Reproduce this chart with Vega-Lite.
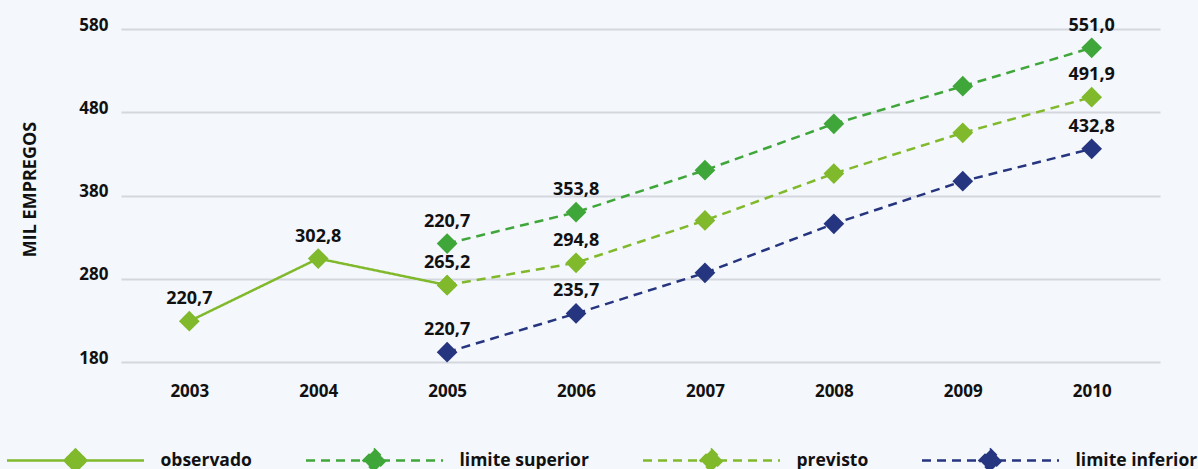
{
  "$schema": "https://vega.github.io/schema/vega-lite/v6.json",
  "width": 1039,
  "height": 333,
  "autosize": {"type": "none"},
  "padding": {"left": 121, "top": 29, "right": 38, "bottom": 107},
  "background": "#f4f7fc",
  "config": {
    "view": {"stroke": null},
    "font": "Open Sans"
  },
  "resolve": {"legend": {"color": "independent"}},
  "data": {
    "values": [
      {"year": "2003", "series": "observado", "value": 229.0, "label": "220,7"},
      {"year": "2004", "series": "observado", "value": 304.3, "label": "302,8"},
      {"year": "2005", "series": "observado", "value": 272.3, "label": "265,2"},
      {"year": "2005", "series": "limite superior", "value": 322.3, "label": "220,7"},
      {"year": "2006", "series": "limite superior", "value": 359.9, "label": "353,8"},
      {"year": "2007", "series": "limite superior", "value": 410.4, "label": ""},
      {"year": "2008", "series": "limite superior", "value": 466.1, "label": ""},
      {"year": "2009", "series": "limite superior", "value": 511.3, "label": ""},
      {"year": "2010", "series": "limite superior", "value": 557.4, "label": "551,0"},
      {"year": "2005", "series": "previsto", "value": 272.3, "label": ""},
      {"year": "2006", "series": "previsto", "value": 299.2, "label": "294,8"},
      {"year": "2007", "series": "previsto", "value": 350.0, "label": ""},
      {"year": "2008", "series": "previsto", "value": 406.4, "label": ""},
      {"year": "2009", "series": "previsto", "value": 455.3, "label": ""},
      {"year": "2010", "series": "previsto", "value": 498.1, "label": "491,9"},
      {"year": "2005", "series": "limite inferior", "value": 191.8, "label": "220,7"},
      {"year": "2006", "series": "limite inferior", "value": 238.3, "label": "235,7"},
      {"year": "2007", "series": "limite inferior", "value": 287.1, "label": ""},
      {"year": "2008", "series": "limite inferior", "value": 346.0, "label": ""},
      {"year": "2009", "series": "limite inferior", "value": 397.2, "label": ""},
      {"year": "2010", "series": "limite inferior", "value": 436.1, "label": "432,8"}
    ]
  },
  "encoding": {
    "x": {
      "field": "year", "type": "ordinal",
      "scale": {"type": "point", "padding": 0.53},
      "axis": {
        "title": null, "domain": false, "ticks": false, "grid": false,
        "labelAngle": 0, "labelFont": "Open Sans", "labelFontWeight": "bold",
        "labelFontSize": 17, "labelColor": "#111111", "labelPadding": 21, "labelBaseline": "top"
      }
    },
    "y": {
      "field": "value", "type": "quantitative",
      "scale": {"domain": [180, 580], "nice": false, "zero": false},
      "axis": {
        "values": [180, 280, 380, 480, 580],
        "title": "MIL EMPREGOS",
        "titleFont": "Open Sans", "titleFontWeight": "bold", "titleFontSize": 18, "titleColor": "#111111",
        "titleX": -91, "titleY": 160, "titleAngle": -90, "titleAlign": "center", "titleBaseline": "middle",
        "domain": false, "ticks": false,
        "grid": true, "gridColor": "#d4d8dd", "gridWidth": 2,
        "labelFont": "Open Sans", "labelFontWeight": "bold", "labelFontSize": 17, "labelColor": "#111111",
        "labelPadding": 13, "labelBaseline": "alphabetic", "labelOffset": 1
      }
    }
  },
  "layer": [
    {
      "mark": {"type": "line", "strokeWidth": 2.5},
      "encoding": {
        "color": {
          "field": "series", "type": "nominal",
          "scale": {
            "domain": ["observado", "limite superior", "previsto", "limite inferior"],
            "range": ["#80b92b", "#3fa63a", "#80b92b", "#26357f"]
          },
          "legend": {
            "title": null,
            "orient": "none",
            "direction": "horizontal",
            "columns": 4,
            "legendX": -115.5,
            "legendY": 361.5,
            "padding": 0,
            "columnPadding": 48,
            "symbolType": "M-1,0H1M-0.16,0L0,-0.16L0.16,0L0,0.16Z",
            "symbolSize": 18769,
            "symbolStrokeWidth": 2.5,
            "labelOffset": 15,
            "labelFont": "Open Sans",
            "labelFontWeight": "bold",
            "labelFontSize": 17.5,
            "labelColor": "#111111",
            "labelLimit": 400,
            "encode": {
              "symbols": {
                "update": {
                  "fill": {"scale": "color", "field": "value"},
                  "stroke": {"scale": "color", "field": "value"},
                  "strokeWidth": {"value": 2.5},
                  "opacity": {"value": 1},
                  "fillOpacity": {"value": 1},
                  "strokeOpacity": {"value": 1},
                  "strokeDash": {"signal": "datum.value === 'observado' ? [1, 0] : [9, 6]"}
                }
              }
            }
          }
        },
        "strokeDash": {
          "field": "series", "type": "nominal", "legend": null,
          "scale": {
            "domain": ["observado", "limite superior", "previsto", "limite inferior"],
            "range": [[1, 0], [9, 6], [9, 6], [9, 6]]
          }
        }
      }
    },
    {
      "mark": {"type": "point", "shape": "diamond", "filled": true, "size": 430, "opacity": 1},
      "encoding": {
        "color": {
          "field": "series", "type": "nominal", "legend": null,
          "scale": {
            "domain": ["observado", "limite superior", "previsto", "limite inferior"],
            "range": ["#80b92b", "#3fa63a", "#80b92b", "#26357f"]
          }
        }
      }
    },
    {
      "transform": [{"filter": "datum.label !== ''"}],
      "mark": {
        "type": "text", "dy": -22, "font": "Open Sans", "fontWeight": "bold",
        "fontSize": 18, "baseline": "middle", "align": "center"
      },
      "encoding": {
        "text": {"field": "label"},
        "color": {"value": "#111111"}
      }
    }
  ]
}
